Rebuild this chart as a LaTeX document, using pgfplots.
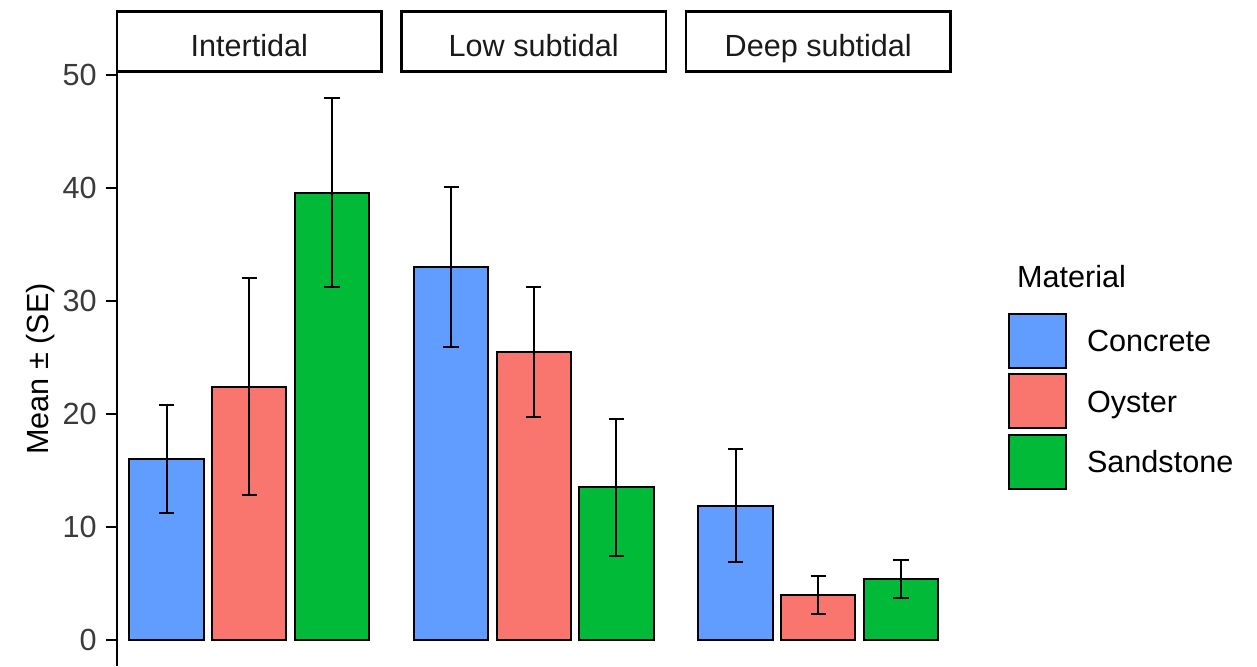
\documentclass[border=0pt]{standalone}
\usepackage{pgfplots}
\pgfplotsset{compat=1.18}
\usepackage{fontspec}
\setmainfont{Liberation Sans}
\definecolor{conc}{HTML}{619CFF}
\definecolor{oyst}{HTML}{F8766D}
\definecolor{sand}{HTML}{00BA38}
\definecolor{txtg}{HTML}{3A3A3A}
\definecolor{stripg}{HTML}{1A1A1A}
\newcommand{\ff}{\fontsize{15.3pt}{18pt}\selectfont}
\pgfplotsset{
  mybar/.style={ybar, bar width=0.9, bar shift=0pt, draw=black, line width=1pt,
    legend image code/.code={\draw[##1] (0pt,-13.5pt) rectangle (28.5pt,13.5pt);},
    /pgfplots/error bars/y dir=both, /pgfplots/error bars/y explicit,
    /pgfplots/error bars/error bar style={line width=1pt, black},
    /pgfplots/error bars/error mark options={rotate=90, line width=1pt, black, mark size=3.8pt}},
  panel/.style={
    scale only axis, width=132.25pt, height=297.2pt,
    xmin=0.4, xmax=3.6, ymin=-2.3, ymax=50.3,
    clip=false, anchor=south west,
  },
}
\begin{document}
\begin{tikzpicture}[font=\ff]
\useasboundingbox (0,0) rectangle (628.5pt,333pt);
% Panel 1
\begin{axis}[panel, at={(58.5pt,0pt)},
  axis x line=none, axis y line*=left,
  axis line style={line width=1.1pt, black},
  ytick={0,10,20,30,40,50}, xtick=\empty,
  tick align=outside, major tick length=5.5pt,
  tick style={line width=1pt, black},
  /pgf/number format/assume math mode=true,
  yticklabel style={font=\ff, text=txtg, inner sep=4.5pt},
  ylabel={Mean ± (SE)}, ylabel style={font=\ff, text=black}, ylabel shift=-4pt,
]
\addplot[mybar, fill=conc] coordinates {(1,16.0) +- (0,4.8)};
\addplot[mybar, fill=oyst] coordinates {(2,22.4) +- (0,9.6)};
\addplot[mybar, fill=sand] coordinates {(3,39.6) +- (0,8.35)};
\draw[line width=1.3pt, black] (rel axis cs:0,1) rectangle ([yshift=30pt]rel axis cs:1,1);
\node[anchor=base, text=stripg] at ([yshift=7.5pt]rel axis cs:0.5,1) {Intertidal};
\end{axis}
% Panel 2
\begin{axis}[panel, at={(200.75pt,0pt)}, hide axis]
\addplot[mybar, fill=conc] coordinates {(1,33.0) +- (0,7.1)};
\addplot[mybar, fill=oyst] coordinates {(2,25.5) +- (0,5.75)};
\addplot[mybar, fill=sand] coordinates {(3,13.5) +- (0,6.1)};
\draw[line width=1.3pt, black] (rel axis cs:0,1) rectangle ([yshift=30pt]rel axis cs:1,1);
\node[anchor=base, text=stripg] at ([yshift=7.5pt]rel axis cs:0.5,1) {Low subtidal};
\end{axis}
% Panel 3
\begin{axis}[panel, at={(343pt,0pt)}, hide axis,
  legend style={at={(1.2174,0.5939)}, anchor=north west, draw=none, fill=none,
    inner sep=0pt, outer sep=0pt, row sep=2.25pt, font=\ff,
    nodes={inner sep=0pt, text height=10.95pt, text depth=0pt},
    /tikz/every odd column/.append style={column sep=10pt}},
  legend cell align=left,
]
\addplot[mybar, fill=conc] coordinates {(1,11.9) +- (0,5.0)};
\addlegendentry{Concrete}
\addplot[mybar, fill=oyst] coordinates {(2,4.0) +- (0,1.7)};
\addlegendentry{Oyster}
\addplot[mybar, fill=sand] coordinates {(3,5.4) +- (0,1.7)};
\addlegendentry{Sandstone}
\draw[line width=1.3pt, black] (rel axis cs:0,1) rectangle ([yshift=30pt]rel axis cs:1,1);
\node[anchor=base, text=stripg] at ([yshift=7.5pt]rel axis cs:0.5,1) {Deep subtidal};
\node[anchor=base west] at (axis description cs:1.225,0.6376) {Material};
\end{axis}
\end{tikzpicture}
\end{document}
